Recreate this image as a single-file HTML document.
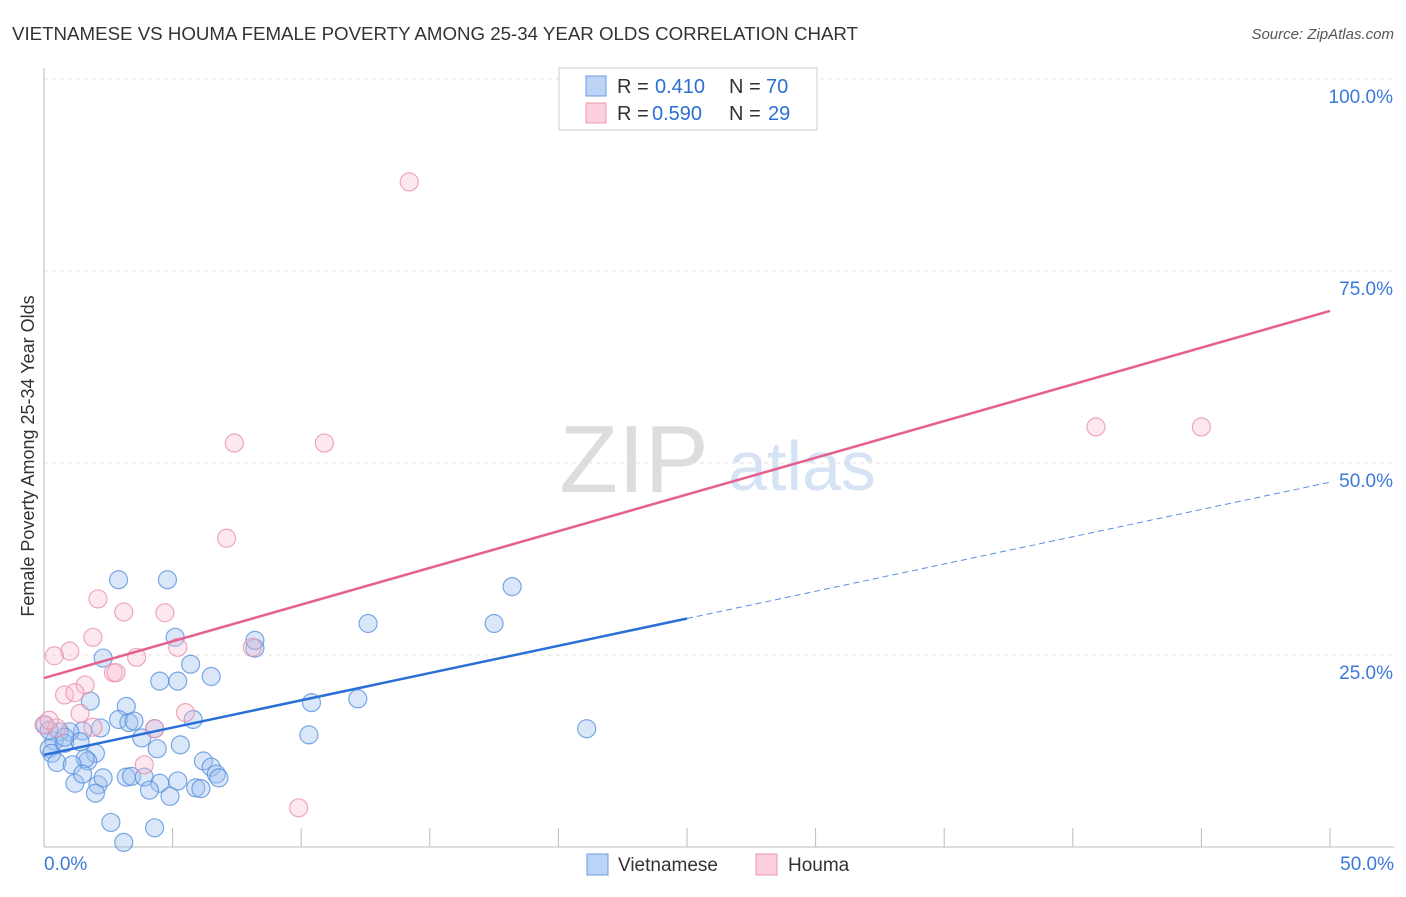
<!DOCTYPE html>
<html><head><meta charset="utf-8"><style>
body{margin:0;background:#fff;font-family:"Liberation Sans",sans-serif}
svg text{font-family:"Liberation Sans",sans-serif}
</style></head><body>
<svg id="chart" width="1406" height="892">
<text x="12" y="40" font-size="18" fill="#333" textLength="846" lengthAdjust="spacingAndGlyphs">VIETNAMESE VS HOUMA FEMALE POVERTY AMONG 25-34 YEAR OLDS CORRELATION CHART</text>
<text x="1394" y="39" font-size="15" fill="#555" font-style="italic" text-anchor="end">Source: ZipAtlas.com</text>
<text x="634" y="492" font-size="96" fill="#ddd" font-family="Liberation Serif" text-anchor="middle">ZIP</text>
<text x="802" y="490" font-size="70" fill="#d5e3f5" text-anchor="middle">atlas</text>
<text transform="translate(34,456) rotate(-90)" font-size="18" fill="#333" text-anchor="middle">Female Poverty Among 25-34 Year Olds</text>
<g id="grid"></g><g id="marks"></g>
<g>
<rect x="559" y="68" width="258" height="62" fill="#fff" stroke="#ccc"/>
<rect x="586" y="76" width="20" height="20" fill="#bcd4f5" stroke="#6a9be0"/>
<rect x="586" y="103" width="20" height="20" fill="#fbcfdc" stroke="#ec9ab4"/>
<text x="617" y="93" font-size="20" fill="#333">R =</text><text x="655" y="93" font-size="20" fill="#2a6fd6">0.410</text>
<text x="729" y="93" font-size="20" fill="#333">N =</text><text x="766" y="93" font-size="20" fill="#2a6fd6">70</text>
<text x="617" y="120" font-size="20" fill="#333">R =</text><text x="652" y="120" font-size="20" fill="#2a6fd6">0.590</text>
<text x="729" y="120" font-size="20" fill="#333">N =</text><text x="768" y="120" font-size="20" fill="#2a6fd6">29</text>
</g>
<g>
<rect x="587" y="854" width="21" height="21" fill="#bcd4f5" stroke="#6a9be0"/>
<text x="618" y="871" font-size="19" fill="#333">Vietnamese</text>
<rect x="756" y="854" width="21" height="21" fill="#fbcfdc" stroke="#ec9ab4"/>
<text x="788" y="871" font-size="19" fill="#333">Houma</text>
</g>
</svg>
<script>
const yTicks=[25,50,75,100];
const yTickLabels=["25.0%","50.0%","75.0%","100.0%"];
const xTickLabels=["0.0%","50.0%"];
const viet=[[2.9,34.8],[4.8,34.8],[5.1,27.3],[2.3,24.6],[8.2,25.9],[8.2,26.9],[4.5,21.6],[5.2,21.6],[5.7,23.8],[6.5,22.2],[1.8,19.0],[3.2,18.3],[12.6,29.1],[17.5,29.1],[18.2,33.9],[12.2,19.3],[10.4,18.8],[10.3,14.6],[21.1,15.4],[2.9,16.6],[3.3,16.2],[4.3,15.4],[3.5,16.4],[5.8,16.6],[2.2,15.5],[1.5,15.1],[1.0,15.0],[0.6,15.0],[0.4,13.8],[0.2,12.8],[0.3,12.2],[0.8,13.5],[1.4,13.7],[2.0,12.2],[1.7,11.2],[1.6,11.5],[0.5,11.0],[1.1,10.7],[4.4,12.8],[5.3,13.3],[3.8,14.2],[6.2,11.2],[6.5,10.4],[6.7,9.5],[6.8,9.0],[3.2,9.1],[3.4,9.2],[3.9,9.1],[4.5,8.3],[5.2,8.6],[4.1,7.4],[4.9,6.6],[5.9,7.7],[6.1,7.6],[2.1,8.1],[1.2,8.3],[1.5,9.5],[2.3,9.0],[2.0,7.0],[2.6,3.2],[4.3,2.5],[3.1,0.6],[0.04,15.9],[0.2,15.2],[0.8,14.3]];
const houma=[[14.2,86.6],[7.4,52.6],[10.9,52.6],[40.9,54.7],[45.0,54.7],[7.1,40.2],[2.1,32.3],[3.1,30.6],[4.7,30.5],[1.9,27.3],[1.0,25.5],[0.4,24.9],[3.6,24.7],[5.2,26.0],[8.1,26.0],[2.7,22.7],[2.8,22.7],[1.6,21.1],[0.8,19.8],[1.2,20.1],[1.4,17.4],[1.9,15.6],[4.3,15.4],[5.5,17.5],[3.9,10.7],[9.9,5.1],[0.0,15.9],[0.5,15.5],[0.2,16.5]];
const vietTrend=[12.0,47.5], vietSolidEnd=25;
const houmaTrend=[22.0,69.8];
const X=v=>44+v*25.72, Y=v=>847-v*7.68;
const NS="http://www.w3.org/2000/svg";
function mk(tag,attrs,parent){const e=document.createElementNS(NS,tag);for(const k in attrs)e.setAttribute(k,attrs[k]);parent.appendChild(e);return e;}
const grid=document.getElementById('grid'), marks=document.getElementById('marks');
yTicks.forEach((t,i)=>{
 const l=mk('line',{x1:44,x2:1394,y1:Y(t),y2:Y(t),stroke:'#e2e2e2','stroke-dasharray':'4,4'},grid);
 
 
 const tx=mk('text',{x:1393,y:Y(t)+24,'font-size':19,fill:'#3b78d8','text-anchor':'end'},grid);
 tx.textContent=yTickLabels[i];
 
 
});
const ax=mk('line',{x1:44,x2:44,y1:68,y2:847,stroke:'#bbb'},grid);


const bx=mk('line',{x1:44,x2:1394,y1:847,y2:847,stroke:'#bbb'},grid);


for(let i=1;i<=10;i++){const t=mk('line',{x1:X(i*5),x2:X(i*5),y1:828,y2:847,stroke:'#bbb'},grid);
 
 }
[[0,'start',44],[50,'end',1394]].forEach((d,i)=>{const t=mk('text',{x:d[2],y:870,'font-size':19,fill:'#3b78d8','text-anchor':d[1]},grid);t.textContent=xTickLabels[i];
 
 });
viet.forEach(p=>{const c=mk('circle',{cx:X(p[0]),cy:Y(p[1]),r:9,fill:'rgba(160,195,240,0.4)',stroke:'rgba(80,140,220,0.75)','stroke-width':1.2},marks);
 
 });
houma.forEach(p=>{const c=mk('circle',{cx:X(p[0]),cy:Y(p[1]),r:9,fill:'rgba(250,190,210,0.35)',stroke:'rgba(232,140,170,0.75)','stroke-width':1.2},marks);
 
 });
const vy=x=>vietTrend[0]+(vietTrend[1]-vietTrend[0])*x/50;
let l1=mk('line',{x1:X(0),y1:Y(vy(0)),x2:X(vietSolidEnd),y2:Y(vy(vietSolidEnd)),stroke:'#2a6fd6','stroke-width':2.5},marks);


let l2=mk('line',{x1:X(vietSolidEnd),y1:Y(vy(vietSolidEnd)),x2:X(50),y2:Y(vy(50)),stroke:'#5a8fe0','stroke-width':1,'stroke-dasharray':'6,4'},marks);


let l3=mk('line',{x1:X(0),y1:Y(houmaTrend[0]),x2:X(50),y2:Y(houmaTrend[1]),stroke:'#e4608e','stroke-width':2.5},marks);


</script>
</body></html>
